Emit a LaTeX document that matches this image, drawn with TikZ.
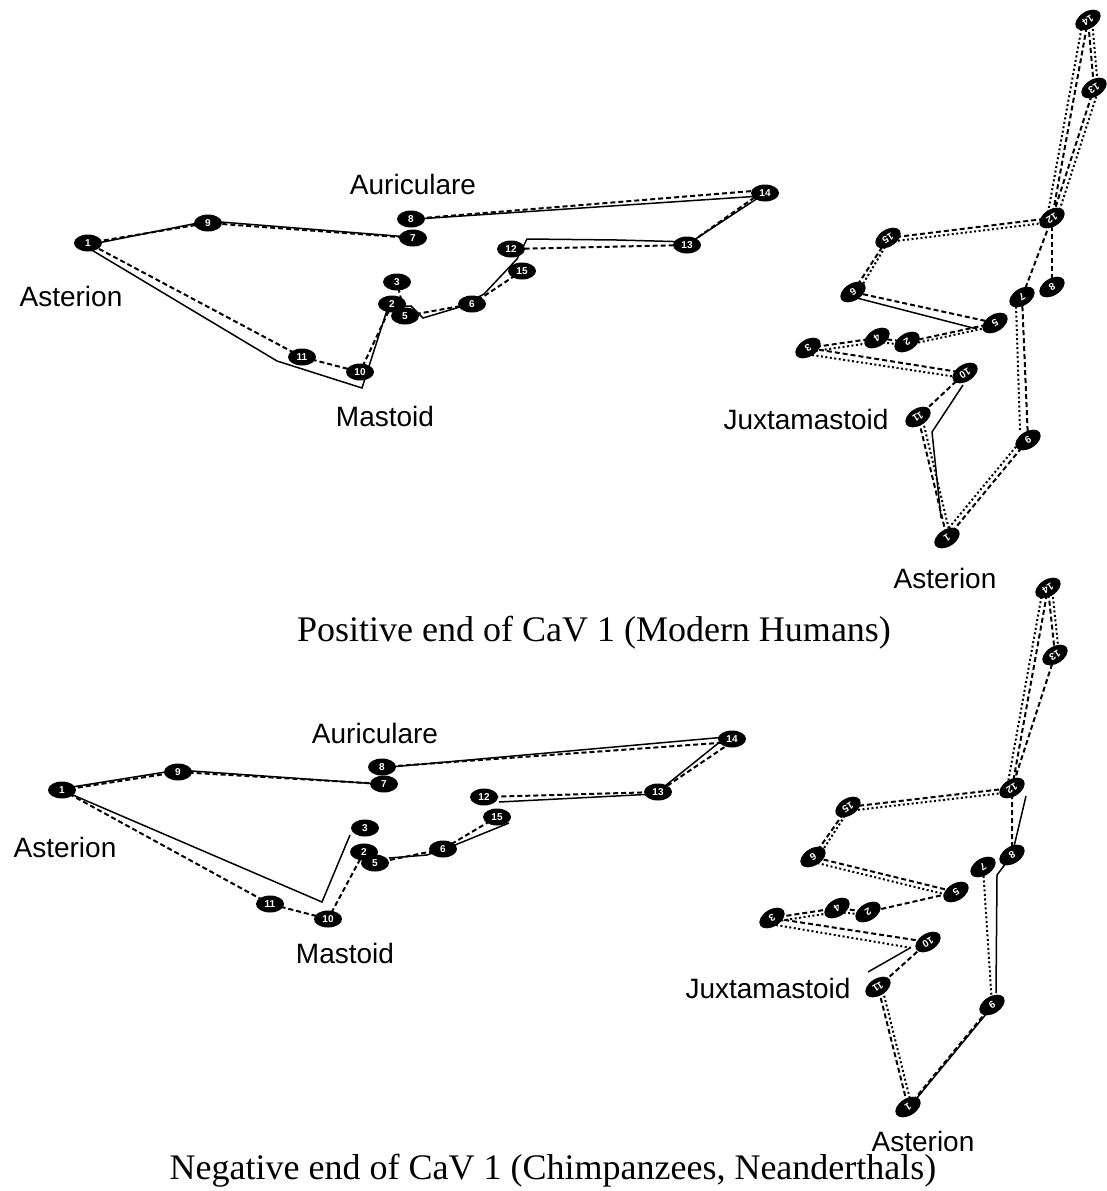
\documentclass[tikz,border=0pt]{standalone}
\usepackage{fontspec}
\setmainfont{Liberation Serif}
\setsansfont{Liberation Sans}
\usetikzlibrary{shapes.geometric,backgrounds}
\begin{document}
\begin{tikzpicture}[x=1pt,y=-1pt,
  lmk/.style={ellipse,fill=black,inner sep=0pt,minimum width=28pt,minimum height=17pt,
    text=white,font=\sffamily\bfseries\fontsize{10}{10}\selectfont},
  lmkr/.style={lmk,rotate=212},
  dashwire/.style={line width=2pt,dash pattern=on 5pt off 3pt},
  solidwire/.style={line width=1.5pt},
  dotwire/.style={line width=2pt,dash pattern=on 2pt off 2.5pt},
  tag/.style={font=\sffamily\fontsize{28}{30}\selectfont,inner sep=0pt},
  caption/.style={font=\fontsize{36}{40}\selectfont,inner sep=0pt}]

\useasboundingbox (0,0) rectangle (1107,1191);

% ---------------- upper panel, lateral view ----------------
\node[lmk] (A1)  at (88,243)  {1};
\node[lmk] (A9)  at (208,223) {9};
\node[lmk] (A8)  at (411,219) {8};
\node[lmk] (A7)  at (413,238) {7};
\node[lmk] (A14) at (765,193) {14};
\node[lmk] (A13) at (687,245) {13};
\node[lmk] (A12) at (511,249) {12};
\node[lmk] (A15) at (522,271) {15};
\node[lmk] (A6)  at (472,304) {6};
\node[lmk] (A3)  at (397,282) {3};
\node[lmk] (A2)  at (392,304) {2};
\node[lmk] (A5)  at (405,316) {5};
\node[lmk] (A11) at (302,357) {11};
\node[lmk] (A10) at (360,372) {10};

\node[tag] (tAur1) at (413,184) {Auriculare};
\node[tag] (tAst1) at (71,296)  {Asterion};
\node[tag] (tMas1) at (385,416) {Mastoid};

% ---------------- upper panel, rotated view ----------------
\node[lmkr] (B14) at (1088,20)  {14};
\node[lmkr] (B13) at (1094,88)  {13};
\node[lmkr] (B12) at (1052,218) {12};
\node[lmkr] (B15) at (888,238)  {15};
\node[lmkr] (B6)  at (853,292)  {6};
\node[lmkr] (B7)  at (1022,297) {7};
\node[lmkr] (B8)  at (1052,287) {8};
\node[lmkr] (B5)  at (995,323)  {5};
\node[lmkr] (B4)  at (877,338)  {4};
\node[lmkr] (B2)  at (907,342)  {2};
\node[lmkr] (B3)  at (808,348)  {3};
\node[lmkr] (B10) at (965,373)  {10};
\node[lmkr] (B11) at (918,417)  {11};
\node[lmkr] (B9)  at (1028,440) {9};
\node[lmkr] (B1)  at (947,538)  {1};

\node[tag] (tJux1) at (806,419) {Juxtamastoid};
\node[tag] (tAst2) at (945,578) {Asterion};

\node[caption] (cap1) at (594,633) {Positive end of CaV 1 (Modern Humans)};

% ---------------- lower panel, lateral view ----------------
\node[lmk] (C1)  at (62,790)  {1};
\node[lmk] (C9)  at (178,772) {9};
\node[lmk] (C8)  at (382,767) {8};
\node[lmk] (C7)  at (384,784) {7};
\node[lmk] (C14) at (732,739) {14};
\node[lmk] (C13) at (658,792) {13};
\node[lmk] (C12) at (484,797) {12};
\node[lmk] (C15) at (497,817) {15};
\node[lmk] (C6)  at (443,849) {6};
\node[lmk] (C3)  at (365,828) {3};
\node[lmk] (C2)  at (364,852) {2};
\node[lmk] (C5)  at (375,863) {5};
\node[lmk] (C11) at (270,904) {11};
\node[lmk] (C10) at (328,919) {10};

\node[tag] (tAur2) at (375,733) {Auriculare};
\node[tag] (tAst3) at (65,847)  {Asterion};
\node[tag] (tMas2) at (345,953) {Mastoid};

% ---------------- lower panel, rotated view ----------------
\node[lmkr] (D14) at (1048,588) {14};
\node[lmkr] (D13) at (1055,655) {13};
\node[lmkr] (D12) at (1012,788) {12};
\node[lmkr] (D15) at (848,807)  {15};
\node[lmkr] (D6)  at (813,857)  {6};
\node[lmkr] (D7)  at (983,867)  {7};
\node[lmkr] (D8)  at (1012,855) {8};
\node[lmkr] (D5)  at (956,892)  {5};
\node[lmkr] (D4)  at (837,908)  {4};
\node[lmkr] (D2)  at (868,912)  {2};
\node[lmkr] (D3)  at (772,918)  {3};
\node[lmkr] (D10) at (928,942)  {10};
\node[lmkr] (D11) at (878,987)  {11};
\node[lmkr] (D9)  at (992,1005) {9};
\node[lmkr] (D1)  at (908,1107) {1};

\node[tag] (tJux2) at (768,988)  {Juxtamastoid};
\node[tag] (tAst4) at (923,1141) {Asterion};

\node[caption] (cap2) at (553,1171) {Negative end of CaV 1 (Chimpanzees, Neanderthals)};

% ---------------- wireframes, behind the landmarks ----------------
\begin{scope}[on background layer]
\fill[white] (0,0) rectangle (1107,1191);

% upper lateral
\draw[dashwire] (A1.center) -- (A9.center) -- (A7.center);
\draw[dashwire] (A8.center) -- ([shift={(0,-3)}]A14.center) -- (A13.center) -- (A12.center);
\draw[dashwire] (A15.center) -- (A6.center) -- (A5.center) -- (A3.center);
\draw[dashwire] (A2.center) -- (A10.center) -- (A11.center) -- (A1.center);
\draw[solidwire] ([shift={(0,2)}]A1.center) -- ([shift={(0,-2)}]A9.center) -- ([shift={(-4,-1)}]A7.center);
\draw[solidwire] ([shift={(6,0)}]A8.center) -- ([shift={(-4,3)}]A14.center)
  -- ([shift={(4,-3)}]A13.center) -- ([shift={(-70,-5)}]A13.center)
  -- ([shift={(16,-10)}]A12.center) -- ([shift={(6,10)}]A12.center)
  -- ([shift={(12,-10)}]A6.center) -- ([shift={(-12,3)}]A6.center)
  -- ([shift={(18,2)}]A5.center) -- ([shift={(6,-10)}]A5.center)
  -- ([shift={(-4,3)}]A2.center) -- ([shift={(2,16)}]A10.center)
  -- ([shift={(-25,4)}]A11.center) -- ([shift={(2,6)}]A1.center);

% upper rotated
\draw[dashwire] (B1.center) -- (B9.center) -- (B7.center) -- (B12.center) -- (B14.center) -- (B13.center) -- (B12.center);
\draw[dashwire] (B12.center) -- (B15.center) -- (B6.center) -- (B5.center) -- (B2.center)
  -- (B4.center) -- (B3.center) -- (B10.center) -- (B11.center) -- (B1.center);
\draw[dashwire] (B8.center) -- (B12.center);
\draw[dotwire] ([shift={(4,0)}]B14.center) -- ([shift={(4,0)}]B13.center);
\draw[dotwire] ([shift={(-5,0)}]B14.center) -- ([shift={(-5,0)}]B12.center);
\draw[dotwire] ([shift={(5,0)}]B13.center) -- ([shift={(5,0)}]B12.center);
\draw[dotwire] ([shift={(0,4)}]B12.center) -- ([shift={(0,4)}]B15.center) -- ([shift={(4,2)}]B6.center);
\draw[solidwire] ([shift={(0,5)}]B6.center) -- ([shift={(-18,6)}]B5.center);
\draw[dotwire] ([shift={(0,3)}]B5.center) -- ([shift={(0,3)}]B2.center) -- ([shift={(0,4)}]B4.center) -- ([shift={(0,4)}]B3.center);
\draw[dotwire] ([shift={(4,7)}]B3.center) -- ([shift={(-8,4)}]B10.center);
\draw[solidwire] ([shift={(-2,12)}]B10.center) -- ([shift={(14,15)}]B11.center) -- ([shift={(-6,-20)}]B1.center);
\draw[dotwire] ([shift={(4,0)}]B11.center) -- ([shift={(4,0)}]B1.center);
\draw[dotwire] ([shift={(-4,-3)}]B1.center) -- ([shift={(-4,-3)}]B9.center);
\draw[dotwire] ([shift={(-8,-10)}]B9.center) -- ([shift={(-6,8)}]B7.center);

% lower lateral
\draw[dashwire] (C1.center) -- (C9.center) -- (C7.center);
\draw[dashwire] (C8.center) -- ([shift={(0,3)}]C14.center) -- (C13.center) -- (C12.center);
\draw[dashwire] (C15.center) -- (C6.center) -- (C5.center);
\draw[dashwire] (C2.center) -- (C10.center) -- (C11.center) -- (C1.center);
\draw[solidwire] ([shift={(4,-2)}]C1.center) -- ([shift={(0,-2)}]C9.center) -- ([shift={(-6,0)}]C7.center);
\draw[solidwire] ([shift={(8,0)}]C8.center) -- ([shift={(-6,-2)}]C14.center)
  -- ([shift={(-3,2)}]C13.center) -- ([shift={(15,5)}]C12.center);
\draw[solidwire] ([shift={(12,6)}]C15.center) -- ([shift={(12,-4)}]C6.center)
  -- ([shift={(-16,6)}]C6.center) -- ([shift={(14,-5)}]C5.center);
\draw[solidwire] ([shift={(-15,7)}]C3.center) -- ([shift={(-6,-17)}]C10.center) -- ([shift={(4,2)}]C1.center);

% lower rotated
\draw[dashwire] (D1.center) -- (D9.center);
\draw[dashwire] (D12.center) -- (D14.center) -- (D13.center) -- (D12.center);
\draw[dashwire] (D8.center) -- (D12.center) -- (D15.center) -- (D6.center) -- (D5.center) -- (D2.center)
  -- (D4.center) -- (D3.center) -- (D10.center) -- (D11.center) -- (D1.center);
\draw[dotwire] ([shift={(4,0)}]D14.center) -- ([shift={(4,0)}]D13.center);
\draw[dotwire] ([shift={(-5,0)}]D14.center) -- ([shift={(-5,0)}]D12.center);
\draw[dotwire] ([shift={(0,4)}]D12.center) -- ([shift={(0,4)}]D15.center) -- ([shift={(4,2)}]D6.center);
\draw[dotwire] ([shift={(0,5)}]D6.center) -- ([shift={(0,5)}]D5.center);
\draw[dotwire] ([shift={(0,3)}]D2.center) -- ([shift={(0,4)}]D4.center) -- ([shift={(0,4)}]D3.center);
\draw[dotwire] ([shift={(4,7)}]D3.center) -- ([shift={(-16,6)}]D10.center);
\draw[solidwire] ([shift={(-18,6)}]D10.center) -- ([shift={(-10,-15)}]D11.center);
\draw[dotwire] ([shift={(4,0)}]D11.center) -- ([shift={(4,0)}]D1.center);
\draw[solidwire] ([shift={(4,-3)}]D1.center) -- ([shift={(4,-3)}]D9.center);
\draw[dotwire] (D7.center) -- (D9.center);
\draw[solidwire] ([shift={(14,8)}]D12.center) -- (D8.center) -- ([shift={(-15,20)}]D8.center) -- ([shift={(4,-12)}]D9.center);
\end{scope}
\end{tikzpicture}
\end{document}
